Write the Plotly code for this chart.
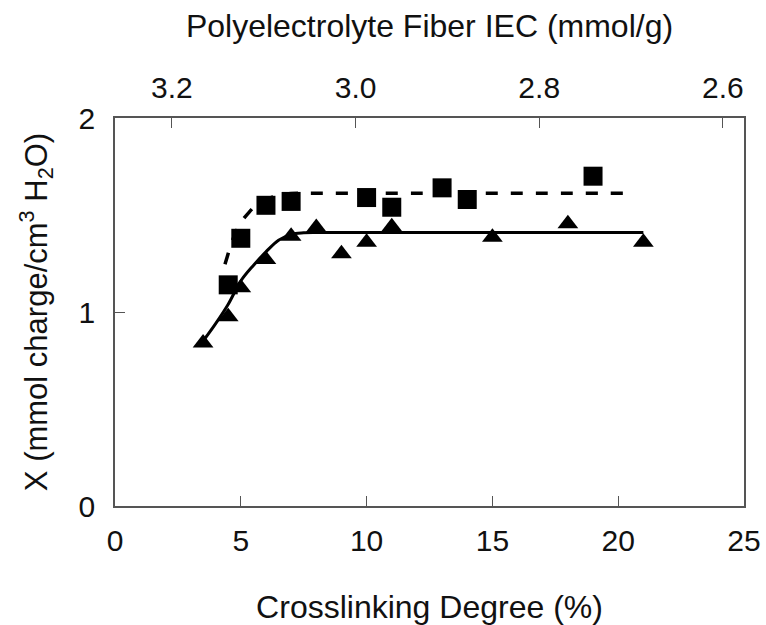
import plotly.graph_objects as go

# Data
tri_x = [3.5, 4.5, 5, 6, 7, 8, 9, 10, 11, 15, 18, 21]
tri_y = [0.84, 0.975, 1.125, 1.27, 1.39, 1.435, 1.30, 1.36, 1.44, 1.385, 1.455, 1.36]

sq_x = [4.5, 5, 6, 7, 10, 11, 13, 14, 19]
sq_y = [1.14, 1.38, 1.55, 1.57, 1.59, 1.54, 1.64, 1.58, 1.70]

# fitted curves
fit_tri_x = [3.5, 4.0, 4.5, 5.0, 5.5, 6.0, 6.5, 7.0, 7.5, 8.0, 21.0]
fit_tri_y = [0.85, 0.94, 1.04, 1.16, 1.24, 1.31, 1.37, 1.40, 1.408, 1.41, 1.41]

fit_sq_x = [4.2, 4.3, 4.45, 4.7, 5.0, 5.3, 5.7, 6.2, 6.8, 7.5, 8.0, 20.4]
fit_sq_y = [1.12, 1.21, 1.28, 1.38, 1.46, 1.51, 1.56, 1.59, 1.608, 1.612, 1.612, 1.612]

x_ticks = [0, 5, 10, 15, 20, 25]
y_ticks = [0, 1, 2]
top_ticks = [3.2, 3.0, 2.8, 2.6]
top_labels = ["3.2", "3.0", "2.8", "2.6"]

FONT = "Liberation Sans, Arial, sans-serif"
TXT = "#111111"
AX = "#555555"

fig = go.Figure()
fig.add_trace(go.Scatter(x=fit_sq_x, y=fit_sq_y, mode="lines", line_shape="spline",
                         line=dict(color="black", width=3.5, dash="12px,13px"),
                         showlegend=False, hoverinfo="skip"))
fig.add_trace(go.Scatter(x=fit_tri_x, y=fit_tri_y, mode="lines", line_shape="spline",
                         line=dict(color="black", width=3),
                         showlegend=False, hoverinfo="skip"))
fig.add_trace(go.Scatter(x=sq_x, y=sq_y, mode="markers",
                         marker=dict(symbol="square", size=19, color="black"),
                         showlegend=False))
fig.add_trace(go.Scatter(x=tri_x, y=tri_y, mode="markers",
                         marker=dict(symbol="triangle-up", size=18, color="black"),
                         showlegend=False))
# invisible trace to activate the top axis
fig.add_trace(go.Scatter(x=top_ticks, y=[None] * len(top_ticks), xaxis="x2", mode="markers",
                         marker=dict(opacity=0), showlegend=False, hoverinfo="skip"))

fig.update_layout(
    width=766, height=625,
    margin=dict(l=115, r=22, t=118, b=119, autoexpand=False),
    paper_bgcolor="white", plot_bgcolor="white",
    font=dict(family=FONT, color=TXT),
    xaxis=dict(
        range=[0, 25], tickvals=x_ticks, ticks="inside", ticklen=10, tickwidth=1,
        tickcolor=AX, showline=True, linecolor=AX, linewidth=1.5, mirror=True,
        showgrid=False, zeroline=False, tickfont=dict(size=30, color=TXT),
        ticklabelstandoff=7, automargin=False,
        title=dict(text="Crosslinking Degree (%)", font=dict(size=32, color=TXT), standoff=40),
    ),
    xaxis2=dict(
        overlaying="x", side="top", range=[3.262, 2.577], tickvals=top_ticks,
        ticktext=top_labels, ticks="inside", ticklen=10, tickwidth=1, tickcolor=AX,
        showline=True, linecolor=AX, linewidth=1.5, showgrid=False, zeroline=False,
        tickfont=dict(size=30, color=TXT), ticklabelstandoff=6, automargin=False,
        title=dict(text="Polyelectrolyte Fiber IEC (mmol/g)", font=dict(size=32, color=TXT), standoff=24),
    ),
    yaxis=dict(
        range=[0, 2], tickvals=y_ticks, ticks="inside", ticklen=10, tickwidth=1,
        tickcolor=AX, showline=True, linecolor=AX, linewidth=1.5, mirror=True,
        showgrid=False, zeroline=False, tickfont=dict(size=30, color=TXT),
        ticklabelstandoff=12, automargin=False,
        title=dict(text="X (mmol charge/cm<sup>3</sup> H<sub>2</sub>O)", font=dict(size=31, color=TXT), standoff=22),
    ),
)

fig.write_html("out.html")
